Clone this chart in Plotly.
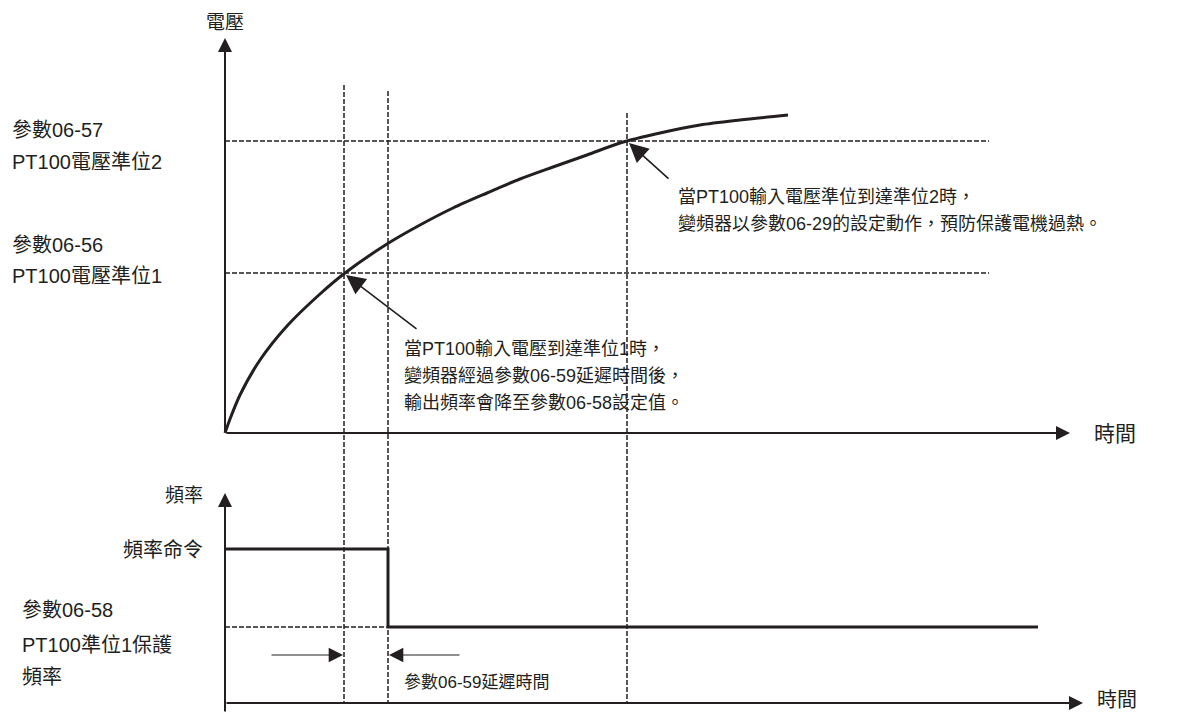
import plotly.graph_objects as go

# voltage curve (time, voltage)
curve_t = [0, 5, 15, 35, 62, 95, 120, 162, 195, 228, 262, 295, 328, 362, 395, 435, 475, 515, 563]
curve_v = [0, 14, 38, 73, 107, 139, 160, 189, 208, 225, 240, 254, 266, 278, 290, 300, 308, 313, 318]

# voltage levels (06-56 level 1, 06-57 level 2)
level_v = [160, 292]
level_end_t = 764

# time markers: reach level 1, delay end, reach level 2
mark_t = [119, 163, 402]
mark_top_v = [348, 342, 320]
mark_bottom_v = -270

# frequency output (bottom panel)
freq_t = [0, 163, 163, 813]
freq_f = [154, 154, 76, 76]
protect_f = 76
delay_arrow_f = 48

top_axis_end = 845
bottom_axis_end = 858
v_axis_top = 395
f_axis_top = 210

INK = "#231f20"
FONT = "Liberation Sans, Noto Sans CJK TC, sans-serif"

fig = go.Figure()

# dashed level lines
for v in level_v:
    fig.add_trace(go.Scatter(x=[0, level_end_t], y=[v, v], mode="lines",
                             line=dict(color=INK, width=1.5, dash="5px,2px"), hoverinfo="skip"))

# dashed time markers spanning both panels
for t, top in zip(mark_t, mark_top_v):
    fig.add_trace(go.Scatter(x=[t, t], y=[top, mark_bottom_v], mode="lines",
                             line=dict(color=INK, width=1.5, dash="5px,2px"), hoverinfo="skip"))

# voltage curve
fig.add_trace(go.Scatter(x=curve_t, y=curve_v, mode="lines",
                         line=dict(color=INK, width=3, shape="spline", smoothing=0.8), hoverinfo="skip"))

# protect level dashed line (bottom)
fig.add_trace(go.Scatter(x=[0, freq_t[1]], y=[protect_f, protect_f], mode="lines", yaxis="y2",
                         line=dict(color=INK, width=1.5, dash="5px,2px"), hoverinfo="skip"))

# frequency output
fig.add_trace(go.Scatter(x=freq_t, y=freq_f, mode="lines", yaxis="y2",
                         line=dict(color=INK, width=3), hoverinfo="skip"))

annotations = []


def arrow(x, y, ax, ay, yref="y", width=2, size=1.0, head=2):
    annotations.append(dict(x=x, y=y, ax=ax, ay=ay, xref="x", yref=yref, axref="x", ayref=yref,
                            text="", showarrow=True, arrowhead=head, arrowsize=size, arrowwidth=width,
                            arrowcolor=INK, standoff=0, startstandoff=0))


def label(x, y, text, yref="y", size=20, anchor="left"):
    annotations.append(dict(x=x, y=y, xref="x", yref=yref, text=text, showarrow=False,
                            xanchor=anchor, yanchor="middle", font=dict(family=FONT, size=size, color=INK)))


# axes with arrow heads
arrow(0, v_axis_top, 0, 0, size=1.4)
arrow(top_axis_end, 0, 0, 0, size=1.4)
arrow(0, f_axis_top, 0, -10, yref="y2", size=1.4)
arrow(bottom_axis_end, 0, 0, 0, yref="y2", size=1.4)

# pointer arrows
arrow(121, 158, 193, 103, width=1.6, size=2.4)
arrow(404, 290, 445, 253, width=1.6, size=2.4)
arrow(mark_t[0] - 1, delay_arrow_f, 45, delay_arrow_f, yref="y2", width=1.1, size=2.6)
arrow(mark_t[1] + 1, delay_arrow_f, 236, delay_arrow_f, yref="y2", width=1.1, size=2.6)

# axis labels
label(0, 411, "電壓", size=19, anchor="center")
label(867, 0, "時間", size=21)
label(-20, 208, "頻率", yref="y2", size=19, anchor="right")
label(870, 3, "時間", yref="y2", size=20)

# level labels
label(-215, 303, "參數06-57")
label(-215, 271, "PT100電壓準位2")
label(-215, 188, "參數06-56")
label(-215, 157, "PT100電壓準位1")
label(-20, 153, "頻率命令", yref="y2", anchor="right")
label(-205, 93, "參數06-58", yref="y2")
label(-205, 58, "PT100準位1保護", yref="y2")
label(-205, 26, "頻率", yref="y2")

# notes
label(177, 84, "當PT100輸入電壓到達準位1時，", size=18)
label(177, 57, "變頻器經過參數06-59延遲時間後，", size=18)
label(177, 30, "輸出頻率會降至參數06-58設定值。", size=18)
label(451, 236, "當PT100輸入電壓準位到達準位2時，", size=18)
label(451, 209, "變頻器以參數06-29的設定動作，預防保護電機過熱。", size=18)
label(177, 21, "參數06-59延遲時間", yref="y2", size=17)

fig.update_layout(
    width=1179, height=715,
    margin=dict(l=0, r=0, t=0, b=0),
    paper_bgcolor="white", plot_bgcolor="white",
    showlegend=False,
    xaxis=dict(range=[-225, 954], visible=False, fixedrange=True),
    yaxis=dict(range=[-282, 433], visible=False, fixedrange=True),
    yaxis2=dict(range=[-12, 703], visible=False, overlaying="y", fixedrange=True),
    annotations=annotations,
    font=dict(family=FONT, color=INK),
)

# the page has a default body margin; drop it so the figure fills the window
fig.write_html("out.html", config={"displayModeBar": False},
               post_script="document.body.style.margin='0';")
